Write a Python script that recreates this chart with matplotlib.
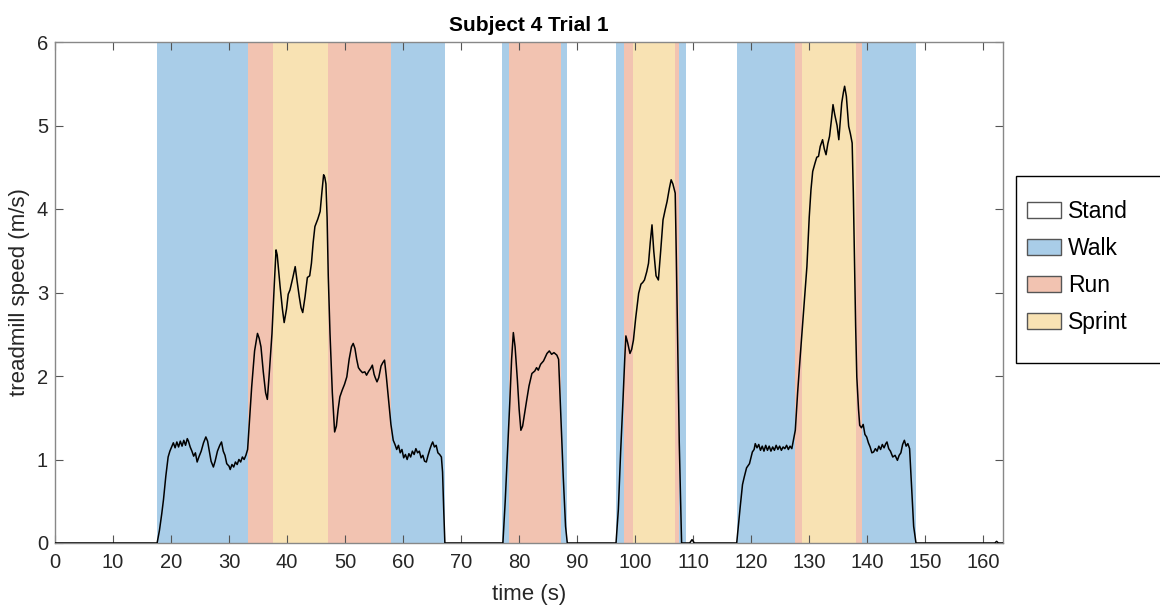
import matplotlib.pyplot as plt
import matplotlib.patches as mpatches
import numpy as np

plt.rcParams['font.family'] = ['Liberation Sans', 'DejaVu Sans']

# phase bands (s)
band_start = [17.6, 33.3, 37.5, 47.0, 58.0, 77.1, 78.2, 87.2, 96.7, 98.0, 99.7, 106.95,
              107.6, 117.5, 127.6, 128.7, 138.0, 139.1]
band_end = [33.3, 37.5, 47.0, 58.0, 67.3, 78.2, 87.2, 88.3, 98.0, 99.7, 106.95, 107.6,
            108.7, 127.6, 128.7, 138.0, 139.1, 148.4]
band_phase = ['Walk', 'Run', 'Sprint', 'Run', 'Walk', 'Walk', 'Run', 'Walk', 'Walk', 'Run',
              'Sprint', 'Run', 'Walk', 'Walk', 'Run', 'Sprint', 'Run', 'Walk']

phases = ['Stand', 'Walk', 'Run', 'Sprint']
phase_colors = {'Stand': '#ffffff', 'Walk': '#a9cde8', 'Run': '#f2c3b1', 'Sprint': '#f8e2b3'}

# treadmill speed trace
time_s = [0.0, 17.6,
          # bout 1
          18.0, 18.4, 18.7, 19.1, 19.5, 19.8, 20.1, 20.4, 20.7, 21.0, 21.3, 21.6, 21.9, 22.2,
          22.5, 22.8, 23.0, 23.3, 23.6, 23.9, 24.2, 24.5, 24.8, 25.2, 25.6, 26.0, 26.3, 26.6,
          26.9, 27.3, 27.6, 28.0, 28.4, 28.7, 29.0, 29.3, 29.6, 30.0, 30.2, 30.5, 30.8, 31.1,
          31.4, 31.7, 32.0, 32.3, 32.6, 32.9, 33.2,
          33.5, 33.9, 34.4, 34.9, 35.2, 35.5, 35.9, 36.3, 36.6, 36.9, 37.4, 37.8, 38.1, 38.3,
          38.8, 39.2, 39.5, 39.9, 40.2, 40.5, 41.0, 41.4, 41.7, 42.1, 42.4, 42.7, 43.1, 43.5,
          43.9, 44.2, 44.5, 44.8, 45.3, 45.7, 46.0, 46.3, 46.5, 46.7, 46.9, 47.1, 47.4, 47.8,
          48.2, 48.5, 48.8, 49.1, 49.5, 49.9, 50.3, 50.7, 51.1, 51.4, 51.7, 52.0, 52.3, 52.6,
          53.0, 53.4, 53.7, 54.1, 54.4, 54.7, 55.0, 55.2, 55.5, 55.8, 56.2, 56.5, 56.8, 57.1,
          57.5, 57.9, 58.3,
          58.6, 58.9, 59.2, 59.5, 59.8, 60.1, 60.4, 60.7, 61.0, 61.3, 61.6, 61.9, 62.2, 62.5,
          62.8, 63.1, 63.4, 63.7, 64.0, 64.3, 64.6, 64.9, 65.1, 65.4, 65.7, 66.0, 66.3, 66.6,
          66.8, 67.0, 67.2,
          # bout 2
          77.2, 77.6, 78.0, 78.4, 78.7, 79.0, 79.3, 79.7, 80.0, 80.3, 80.6, 81.0, 81.3, 81.7,
          82.2, 82.7, 83.0, 83.3, 83.7, 84.2, 84.8, 85.2, 85.6, 86.0, 86.5, 86.8, 87.2, 87.6,
          88.0, 88.3,
          # bout 3
          96.7, 97.1, 97.5, 97.9, 98.2, 98.4, 98.7, 99.1, 99.4, 99.7, 100.1, 100.6, 101.0,
          101.3, 101.6, 102.0, 102.3, 102.6, 102.9, 103.2, 103.6, 104.0, 104.4, 104.8, 105.2,
          105.5, 105.9, 106.2, 106.5, 106.9, 107.1, 107.3, 107.6, 108.0,
          109.4, 109.8, 110.2,
          # bout 4
          117.5, 118.1, 118.5, 118.8, 119.2, 119.7, 120.2, 120.5, 120.7, 121.0, 121.3, 121.6,
          121.9, 122.2, 122.5, 122.8, 123.1, 123.4, 123.7, 124.0, 124.3, 124.6, 124.9, 125.2,
          125.5, 125.8, 126.1, 126.4, 126.7, 127.0, 127.6, 128.0, 128.4, 129.0, 129.6, 130.0,
          130.3, 130.6, 131.0, 131.3, 131.6, 131.9, 132.3, 132.6, 132.9, 133.2, 133.5, 133.8,
          134.1, 134.4, 134.8, 135.1, 135.4, 135.6, 135.9, 136.1, 136.4, 136.8, 137.1, 137.4,
          137.6, 137.8, 138.0, 138.2, 138.5, 138.7, 139.0, 139.3, 139.6, 139.9, 140.2, 140.5,
          140.8, 141.1, 141.4, 141.7, 142.0, 142.3, 142.6, 142.9, 143.2, 143.4, 143.7, 144.0,
          144.4, 144.8, 145.2, 145.5, 145.8, 146.1, 146.4, 146.7, 147.0, 147.3, 147.7, 148.0,
          148.4,
          162.0, 162.3, 162.6, 163.4]

speed_ms = [0.0, 0.0,
            0.15, 0.35, 0.52, 0.80, 1.03, 1.10, 1.15, 1.20, 1.14, 1.21, 1.15, 1.22, 1.16, 1.23,
            1.17, 1.25, 1.22, 1.15, 1.10, 1.04, 1.08, 0.97, 1.03, 1.10, 1.20, 1.27, 1.22, 1.10,
            0.98, 0.91, 0.98, 1.10, 1.17, 1.21, 1.10, 1.05, 0.95, 0.92, 0.88, 0.94, 0.91, 0.97,
            0.94, 1.00, 0.97, 1.03, 1.00, 1.05, 1.12,
            1.45, 1.87, 2.30, 2.51, 2.45, 2.35, 2.05, 1.80, 1.72, 2.00, 2.51, 3.10, 3.51, 3.45,
            3.07, 2.80, 2.64, 2.80, 2.98, 3.03, 3.18, 3.31, 3.15, 2.95, 2.82, 2.76, 2.95, 3.18,
            3.20, 3.35, 3.60, 3.79, 3.88, 3.97, 4.20, 4.41, 4.38, 4.30, 3.90, 3.20, 2.51, 1.80,
            1.33, 1.40, 1.60, 1.75, 1.83, 1.90, 1.99, 2.20, 2.35, 2.39, 2.33, 2.20, 2.10, 2.07,
            2.04, 2.05, 2.01, 2.06, 2.09, 2.13, 2.02, 1.98, 1.93, 1.98, 2.12, 2.16, 2.19, 2.00,
            1.71, 1.42, 1.23,
            1.18, 1.12, 1.17, 1.08, 1.12, 1.02, 1.06, 1.00, 1.07, 1.03, 1.10, 1.06, 1.13, 1.08,
            1.10, 1.02, 1.05, 0.98, 0.97, 1.05, 1.12, 1.18, 1.21, 1.15, 1.17, 1.08, 1.06, 1.03,
            0.85, 0.40, 0.0,
            0.0, 0.50, 1.10, 1.70, 2.20, 2.52, 2.35, 1.95, 1.60, 1.35, 1.40, 1.58, 1.71, 1.88,
            2.03, 2.06, 2.10, 2.07, 2.14, 2.18, 2.27, 2.30, 2.26, 2.28, 2.25, 2.20, 1.50, 0.80,
            0.20, 0.0,
            0.0, 0.40, 1.10, 1.71, 2.20, 2.48, 2.40, 2.27, 2.32, 2.43, 2.70, 2.99, 3.10,
            3.12, 3.15, 3.25, 3.35, 3.60, 3.81, 3.50, 3.20, 3.15, 3.50, 3.87, 4.00,
            4.09, 4.25, 4.35, 4.30, 4.19, 3.40, 2.51, 1.20, 0.0,
            0.0, 0.04, 0.0,
            0.0, 0.43, 0.70, 0.79, 0.90, 0.95, 1.09, 1.12, 1.19, 1.14, 1.18, 1.11,
            1.16, 1.10, 1.17, 1.11, 1.16, 1.10, 1.15, 1.11, 1.17, 1.12, 1.16, 1.11,
            1.15, 1.13, 1.17, 1.12, 1.16, 1.13, 1.35, 1.80, 2.19, 2.75, 3.31, 3.90,
            4.23, 4.45, 4.55, 4.62, 4.63, 4.75, 4.83, 4.72, 4.65, 4.78, 4.87, 5.05,
            5.25, 5.13, 5.00, 4.83, 5.10, 5.27, 5.40, 5.47, 5.35, 4.99, 4.90, 4.79,
            4.20, 3.39, 2.60, 1.99, 1.60, 1.41, 1.38, 1.42, 1.30, 1.27, 1.20, 1.15,
            1.08, 1.09, 1.13, 1.10, 1.16, 1.12, 1.18, 1.14, 1.19, 1.21, 1.13, 1.10,
            1.03, 1.05, 0.99, 1.05, 1.08, 1.18, 1.23, 1.16, 1.19, 1.13, 0.60, 0.20,
            0.0,
            0.0, 0.02, 0.0, 0.0]

fig = plt.figure(figsize=(11.6, 6.05), dpi=100)
ax = fig.add_axes([55 / 1160, 1 - 543 / 605, 948 / 1160, 501 / 605])

for s, e, p in zip(band_start, band_end, band_phase):
    ax.axvspan(s, e, color=phase_colors[p], lw=0, zorder=0)

ax.plot(time_s, speed_ms, color='black', lw=1.1, zorder=3)

ax.set_xlim(0, 163.4)
ax.set_ylim(0, 6)
ax.set_xticks(np.arange(0, 161, 10))
ax.set_yticks(np.arange(0, 7, 1))
ax.tick_params(direction='in', top=True, right=True, length=5.5, width=0.8,
               color='#555555', labelsize=14.5, labelcolor='#262626')
ax.tick_params(axis='x', pad=7)
ax.tick_params(axis='y', pad=5)
for sp in ax.spines.values():
    sp.set_color('#888888')
    sp.set_linewidth(1.0)

ax.set_xlabel('time (s)', fontsize=16, color='#262626', labelpad=9)
ax.set_ylabel('treadmill speed (m/s)', fontsize=16, color='#262626', labelpad=5)
ax.set_title('Subject 4 Trial 1', fontsize=15, fontweight='bold', pad=8)

# legend box
box = mpatches.Rectangle((1016 / 1160, 1 - 363 / 605), 160 / 1160, 187 / 605,
                         transform=fig.transFigure, facecolor='white', edgecolor='black',
                         lw=1.0, clip_on=False)
fig.patches.append(box)
handles = [mpatches.Patch(facecolor=phase_colors[p], edgecolor='#555555', lw=1.0, label=p)
           for p in phases]
fig.legend(handles=handles, loc='center left', bbox_to_anchor=(1027 / 1160, 1 - 267 / 605),
           frameon=False, fontsize=16.5, handlelength=1.5, handleheight=0.7,
           handletextpad=0.3, labelspacing=0.62, borderpad=0, borderaxespad=0)

plt.savefig('out.png', dpi=100)
